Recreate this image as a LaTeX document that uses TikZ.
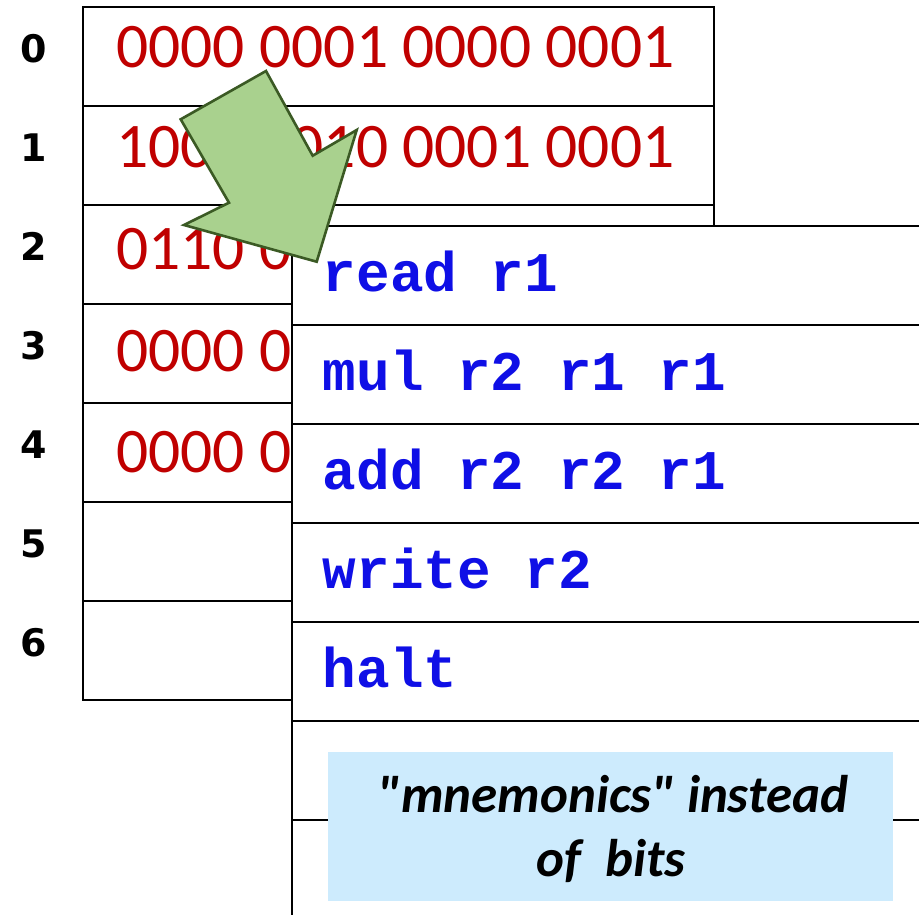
\documentclass[tikz,border=0pt]{standalone}
\usepackage{fontspec}
\setmainfont{Carlito}
\newfontfamily\labelfont{DejaVu Sans}
\newfontfamily\codefont{Liberation Mono}
\definecolor{bitred}{HTML}{C00000}
\definecolor{codeblue}{HTML}{0F0FE6}
\definecolor{arrowgreen}{HTML}{A9D18E}
\definecolor{arrowdark}{HTML}{3B5A24}
\definecolor{notebg}{HTML}{CDEBFD}
\tikzset{
  memcell/.style={draw, fill=white, minimum width=631pt, minimum height=99pt,
    inner sep=0pt, outer sep=0pt, anchor=north west},
  progcell/.style={memcell, minimum width=660pt},
  rowlabel/.style={anchor=base, inner sep=0pt, font=\labelfont\bfseries\fontsize{38}{40}\selectfont},
  bitstext/.style={anchor=base west, inner sep=0pt, text=bitred, font=\fontsize{63.5}{66}\selectfont},
  codetext/.style={anchor=base west, inner sep=0pt, text=codeblue, font=\codefont\bfseries\fontsize{56}{60}\selectfont},
  bigarrow/.style={fill=arrowgreen, draw=arrowdark, line width=2.6pt, line join=miter},
  notebox/.style={fill=notebg, minimum width=565pt, minimum height=149pt, inner sep=0pt},
  notetext/.style={anchor=base, inner sep=0pt, font=\bfseries\itshape\fontsize{53}{64}\selectfont}
}
\begin{document}
\begin{tikzpicture}[x=1pt, y=-1pt, line width=1.6pt]
  \useasboundingbox (0,0) rectangle (919,914);
  \foreach \i in {0,...,6}{
    \node[memcell] (m\i) at (83, 7+99*\i) {};
    \node[rowlabel] (l\i) at (34, 62+99*\i) {\i};
  }
  \foreach \bits/\base [count=\i from 0] in {0000 0001 0000 0001/67, 1000 0010 0001 0001/167,
      0110 0/269, 0000 0/371, 0000 0/472}{
    \node[bitstext] (b\i) at (115.5, \base) {\bits};
  }
  \foreach \instr [count=\i from 0] in {read r1, mul r2 r1 r1, add r2 r2 r1,
      write r2, halt, {}, {}}{
    \node[progcell] (p\i) at (292, 226+99*\i) {};
    \node[codetext] (t\i) at (322, 291+99*\i) {\instr};
  }
  \draw[bigarrow] (266,71) -- (312.7,155.7) -- (356.7,130) -- (316.7,261.7)
    -- (184,225) -- (229,202.7) -- (180.7,119.3) -- cycle;
  \node[notebox] (note) at (610.5,826) {};
  \node[notetext] (line1) at (613,812) {\textquotedbl mnemonics\textquotedbl{} instead};
  \node[notetext] (line2) at (611,876) {of~ bits};
\end{tikzpicture}
\end{document}
